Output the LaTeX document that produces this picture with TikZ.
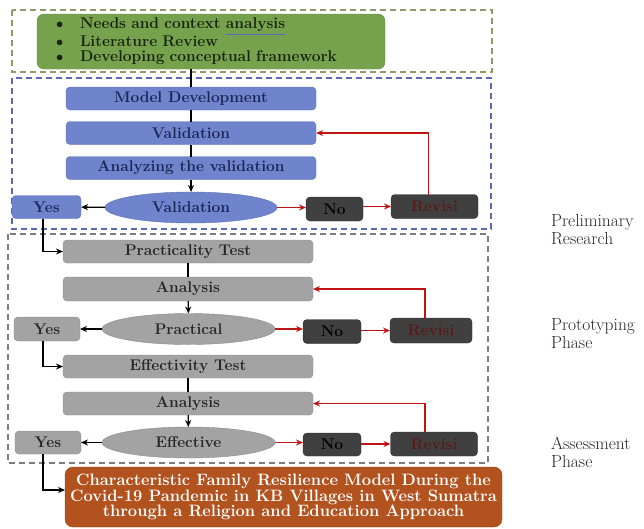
\documentclass[tikz,border=0pt]{standalone}
\usepackage{amsmath}
\usepackage{tikz}
\usetikzlibrary{arrows.meta}
\usetikzlibrary{shapes.geometric}

\definecolor{framegreen}{RGB}{140,155,105}
\definecolor{frameblue}{RGB}{90,105,180}
\definecolor{framegray}{RGB}{125,125,125}
\definecolor{fillgreen}{RGB}{118,162,78}
\definecolor{fillblue}{RGB}{112,132,206}
\definecolor{fillgray}{RGB}{163,163,163}
\definecolor{filldark}{RGB}{64,64,64}
\definecolor{fillbrown}{RGB}{178,82,30}
\definecolor{textblue}{RGB}{28,38,84}
\definecolor{textgreen}{RGB}{25,35,15}
\definecolor{textred}{RGB}{92,24,24}
\definecolor{linered}{RGB}{192,20,20}

\newcommand{\boxfont}{\fontsize{15.5}{16}\selectfont\bfseries}
\newcommand{\phasefont}{\fontsize{17.5}{18}\selectfont}
\newcommand{\bulletitem}{\makebox[24pt][l]{$\bullet$}}
\newcommand{\ulword}[1]{\rlap{\color{frameblue}\underline{\phantom{#1}}}#1}

\begin{document}
\begin{tikzpicture}[x=1pt,y=-1pt]
\useasboundingbox (0,0) rectangle (644,528);
\begin{scope}[line width=1.2pt,dash pattern=on 6pt off 4pt]
    \draw[framegreen] (12,10) rectangle (492,72);
    \draw[frameblue] (12,78) rectangle (491,229);
    \draw[framegray] (8,234) rectangle (488,463);
\end{scope}
\begin{scope}[every node/.style={inner sep=0pt,outer sep=0pt,font=\boxfont},
              greenbox/.style={rectangle,rounded corners=7pt,fill=fillgreen,draw=fillgreen!85!black,text=textgreen,
                               text width=310pt,inner xsep=19pt,minimum height=55,align=left,font=\fontsize{15.5}{15.5}\selectfont\bfseries},
              bluebox/.style={rectangle,rounded corners=4pt,fill=fillblue,draw=fillblue!85!black,text=textblue,minimum height=23},
              graybox/.style={rectangle,rounded corners=4pt,fill=fillgray,draw=fillgray!85!black,text=black!85,minimum height=23},
              bluequestion/.style={ellipse,fill=fillblue,draw=fillblue!85!black,text=textblue,minimum width=172,minimum height=31},
              grayquestion/.style={ellipse,fill=fillgray,draw=fillgray!85!black,text=black!85,minimum width=173,minimum height=31},
              darkbox/.style={rectangle,rounded corners=4pt,fill=filldark,draw=filldark!70!black,minimum height=24},
              finalbox/.style={rectangle,rounded corners=8pt,fill=fillbrown,draw=fillbrown!85!black,text=white,
                               minimum width=437,minimum height=60,align=center,font=\fontsize{16.5}{15.5}\selectfont\bfseries},
              phaselabel/.style={anchor=west,align=left,font=\phasefont,text=black!85}]
    \node[greenbox] (green) at (211,41.5) {\bulletitem Needs and context \ulword{analysis}\\
                                           \bulletitem Literature Review\\
                                           \bulletitem Developing conceptual framework};
    \node[bluebox,minimum width=250] (md) at (191,98.5) {Model Development};
    \node[bluebox,minimum width=250] (val) at (191,133) {Validation};
    \node[bluebox,minimum width=250] (anv) at (191,168) {Analyzing the validation};
    \node[bluequestion] (valq) at (191,207.5) {Validation};
    \node[bluebox,minimum width=69] (yes1) at (46.5,207) {Yes};
    \node[darkbox,minimum width=57,text=black] (no1) at (334.5,209) {No};
    \node[darkbox,minimum width=87,text=textred] (rev1) at (434.5,206.5) {Revisi};
    \node[graybox,minimum width=250] (prac) at (188,251.5) {Practicality Test};
    \node[graybox,minimum width=250,minimum height=24] (ana1) at (188,289) {Analysis};
    \node[grayquestion] (pracq) at (188.5,329) {Practical};
    \node[graybox,minimum width=66,minimum height=24] (yes2) at (47,329) {Yes};
    \node[darkbox,minimum width=58,text=black] (no2) at (332,331.5) {No};
    \node[darkbox,minimum width=82,minimum height=25,text=textred] (rev2) at (431,330.5) {Revisi};
    \node[graybox,minimum width=250] (eff) at (188,366.5) {Effectivity Test};
    \node[graybox,minimum width=250] (ana2) at (188,403.5) {Analysis};
    \node[grayquestion] (effq) at (188.5,442.5) {Effective};
    \node[graybox,minimum width=66] (yes3) at (48,442.5) {Yes};
    \node[darkbox,minimum width=58,minimum height=23,text=black] (no3) at (332,444.5) {No};
    \node[darkbox,minimum width=87,text=textred] (rev3) at (434,444) {Revisi};
    \node[finalbox] (final) at (283.5,497) {Characteristic Family Resilience Model During the\\
                                            Covid-19 Pandemic in KB Villages in West Sumatra\\
                                            through a Religion and Education Approach};
    \node[phaselabel] (prelim) at (551,230) {Preliminary\\Research};
    \node[phaselabel] (proto) at (551,333.5) {Prototyping\\Phase};
    \node[phaselabel] (assess) at (551,452.5) {Assessment\\Phase};
\end{scope}
\begin{scope}[>={Stealth[length=7pt,width=6pt]},
              flowline/.style={draw=black,line width=1.3pt},
              redline/.style={draw=linered,line width=1.1pt},
              turnline/.style={to path={|- (\tikztotarget)}}]
    \path (green.south -| md.north) edge [flowline] (md);
    \path (md) edge [flowline] (val);
    \path (val) edge [flowline] (anv);
    \path [->] (anv) edge [flowline] (valq);
    \path [->] (valq) edge [flowline] (yes1);
    \path [->] (valq.east) edge [redline] (no1.west |- valq.east);
    \path [->] (no1.east |- rev1) edge [redline] (rev1.west);
    \path [->] ([xshift=-6pt]rev1.north) edge [redline,turnline] (val.east);
    \path [->] ([xshift=-3.5pt]yes1.south) edge [flowline,turnline] (prac.west);
    \path (prac) edge [flowline] (ana1);
    \path [->] (ana1) edge [flowline] (pracq);
    \path [->] (pracq) edge [flowline] (yes2);
    \path [->] (pracq.east) edge [redline] (no2.west |- pracq.east);
    \path [->] (no2.east |- rev2) edge [redline] (rev2.west);
    \path [->] ([xshift=-6pt]rev2.north) edge [redline,turnline] (ana1.east);
    \path [->] ([xshift=-4pt]yes2.south) edge [flowline,turnline] (eff.west);
    \path (eff) edge [flowline] (ana2);
    \path [->] (ana2) edge [flowline] (effq);
    \path [->] (effq) edge [flowline] (yes3);
    \path [->] (effq.east) edge [redline] (no3.west |- effq.east);
    \path [->] (no3.east |- rev3) edge [redline] (rev3.west);
    \path [->] ([xshift=-9pt]rev3.north) edge [redline,turnline] (ana2.east);
    \path [->] ([xshift=-5pt]yes3.south) edge [flowline,turnline] ([yshift=7pt]final.west);
\end{scope}
\end{tikzpicture}
\end{document}
